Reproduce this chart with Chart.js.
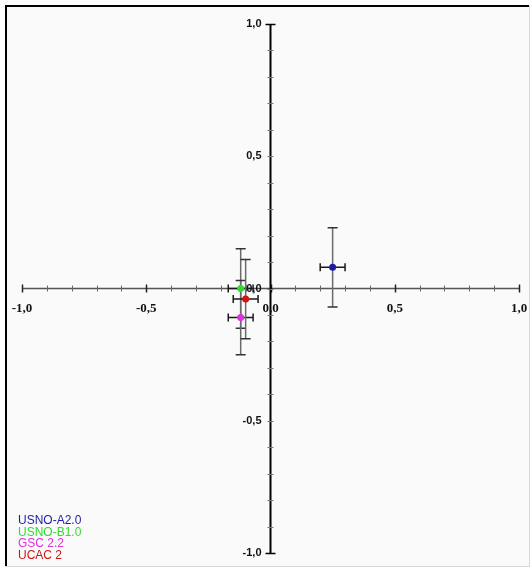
<!DOCTYPE html>
<html>
<head>
<meta charset="utf-8">
<script src="https://cdn.jsdelivr.net/npm/chart.js@4.4.1/dist/chart.umd.min.js"></script>
<style>
  html, body { margin: 0; padding: 0; background: #ffffff; }
  #wrap { width: 531px; height: 568px; }
</style>
</head>
<body>
<div id="wrap"><canvas id="chart" width="531" height="568"></canvas></div>
<script>
// Catalogue offsets (position difference) with their uncertainties
const catalogs = ['USNO-A2.0', 'USNO-B1.0', 'GSC 2.2', 'UCAC 2'];
const catalogColors = ['#1c1ca8', '#30dc30', '#e030e0', '#d01414'];
const xValues = [0.25, -0.12, -0.12, -0.10];
const yValues = [0.08, 0.00, -0.11, -0.04];
const xErrors = [0.05, 0.05, 0.05, 0.05];
const yErrors = [0.15, 0.15, 0.14, 0.15];

// Axis ticks
const majorTicks = [-1.0, -0.5, 0.0, 0.5, 1.0];
const tickLabels = ['-1,0', '-0,5', '0,0', '0,5', '1,0'];
const minorStep = 0.1;

const datasets = catalogs.map((name, i) => ({
  label: name,
  data: [{ x: xValues[i], y: yValues[i] }],
  backgroundColor: catalogColors[i],
  borderColor: catalogColors[i],
  borderWidth: 0,
  pointRadius: 3.5,
  pointHoverRadius: 3.5
}));

// Panel background with an inset frame
const framePlugin = {
  id: 'frame',
  beforeDraw(chart) {
    const ctx = chart.ctx;
    ctx.save();
    ctx.fillStyle = '#ffffff';
    ctx.fillRect(0, 0, chart.width, chart.height);
    ctx.fillStyle = '#fafafa';
    ctx.fillRect(6, 6, 523, 560);
    ctx.fillStyle = '#000000';
    ctx.fillRect(5, 5, 525, 2);
    ctx.fillRect(5, 5, 2, 562);
    ctx.fillStyle = '#d8d8d8';
    ctx.fillRect(529, 5, 1, 562);
    ctx.fillRect(5, 566, 525, 1);
    ctx.restore();
  }
};

// Cross-shaped axes through the origin
const crossAxesPlugin = {
  id: 'crossAxes',
  beforeDatasetsDraw(chart) {
    const ctx = chart.ctx;
    const xs = chart.scales.x, ys = chart.scales.y;
    const x0 = xs.getPixelForValue(0), y0 = ys.getPixelForValue(0);
    const xl = xs.getPixelForValue(xs.min), xr = xs.getPixelForValue(xs.max);
    const yt = ys.getPixelForValue(ys.max), yb = ys.getPixelForValue(ys.min);
    ctx.save();

    // horizontal axis
    ctx.strokeStyle = '#555555';
    ctx.lineWidth = 1.5;
    ctx.beginPath();
    ctx.moveTo(xl, y0); ctx.lineTo(xr, y0);
    ctx.stroke();
    const n = Math.round((xs.max - xs.min) / minorStep);
    for (let k = 0; k <= n; k++) {
      const v = xs.min + k * minorStep;
      const px = Math.round(xs.getPixelForValue(v)) + 0.5;
      const major = majorTicks.some(m => Math.abs(m - v) < 1e-6);
      const h = major ? 4 : 3;
      ctx.strokeStyle = major ? '#222222' : '#666666';
      ctx.lineWidth = major ? 1.5 : 1;
      ctx.beginPath();
      ctx.moveTo(px, y0 - h); ctx.lineTo(px, y0 + h);
      ctx.stroke();
    }

    // vertical axis
    ctx.strokeStyle = '#000000';
    ctx.lineWidth = 2;
    ctx.beginPath();
    ctx.moveTo(x0, yt); ctx.lineTo(x0, yb);
    ctx.stroke();
    const m = Math.round((ys.max - ys.min) / minorStep);
    for (let k = 0; k <= m; k++) {
      const v = ys.min + k * minorStep;
      const py = Math.round(ys.getPixelForValue(v)) + 0.5;
      const end = Math.abs(Math.abs(v) - 1) < 1e-6;
      const h = end ? 5 : 3;
      ctx.strokeStyle = end ? '#000000' : '#777777';
      ctx.lineWidth = end ? 1.5 : 1;
      ctx.beginPath();
      ctx.moveTo(x0 - h, py); ctx.lineTo(x0 + h, py);
      ctx.stroke();
    }

    // tick labels
    ctx.fillStyle = '#111111';
    ctx.font = 'bold 13px "Liberation Serif", serif';
    ctx.textAlign = 'center';
    ctx.textBaseline = 'middle';
    majorTicks.forEach((v, i) => {
      ctx.fillText(tickLabels[i], xs.getPixelForValue(v), y0 + 20);
    });
    ctx.font = 'bold 11px "Liberation Sans", sans-serif';
    ctx.textAlign = 'right';
    majorTicks.forEach((v, i) => {
      ctx.fillText(tickLabels[i], x0 - 9, ys.getPixelForValue(v));
    });
    ctx.restore();
  }
};

// Error bars for each catalogue point
const errorBarsPlugin = {
  id: 'errorBars',
  beforeDatasetsDraw(chart) {
    const ctx = chart.ctx;
    const xs = chart.scales.x, ys = chart.scales.y;
    ctx.save();
    catalogs.forEach((_, i) => {
      const px = xs.getPixelForValue(xValues[i]);
      const py = ys.getPixelForValue(yValues[i]);
      const top = ys.getPixelForValue(yValues[i] + yErrors[i]);
      const bot = ys.getPixelForValue(yValues[i] - yErrors[i]);
      const left = xs.getPixelForValue(xValues[i] - xErrors[i]);
      const right = xs.getPixelForValue(xValues[i] + xErrors[i]);
      // vertical bar
      ctx.strokeStyle = '#6a6a6a';
      ctx.lineWidth = 1.5;
      ctx.beginPath();
      ctx.moveTo(px, top); ctx.lineTo(px, bot);
      ctx.stroke();
      ctx.strokeStyle = '#333333';
      ctx.beginPath();
      ctx.moveTo(px - 5, top); ctx.lineTo(px + 5, top);
      ctx.moveTo(px - 5, bot); ctx.lineTo(px + 5, bot);
      ctx.stroke();
      // horizontal bar
      ctx.strokeStyle = '#1a1a1a';
      ctx.lineWidth = 1.5;
      ctx.beginPath();
      ctx.moveTo(left, py); ctx.lineTo(right, py);
      ctx.moveTo(left, py - 4); ctx.lineTo(left, py + 4);
      ctx.moveTo(right, py - 4); ctx.lineTo(right, py + 4);
      ctx.stroke();
    });
    ctx.restore();
  }
};

// Catalogue names in their colours, lower left
const legendTextPlugin = {
  id: 'legendText',
  afterDraw(chart) {
    const ctx = chart.ctx;
    ctx.save();
    ctx.font = '12px "Liberation Sans", Arial, sans-serif';
    ctx.textAlign = 'left';
    ctx.textBaseline = 'middle';
    catalogs.forEach((name, i) => {
      ctx.fillStyle = catalogColors[i];
      ctx.fillText(name, 18, 521 + i * 11.5);
    });
    ctx.restore();
  }
};

new Chart(document.getElementById('chart'), {
  type: 'scatter',
  data: { datasets },
  options: {
    responsive: false,
    animation: false,
    layout: { padding: { left: 22, right: 12, top: 24, bottom: 15 } },
    scales: {
      x: { type: 'linear', min: -1, max: 1, display: false },
      y: { type: 'linear', min: -1, max: 1, display: false }
    },
    plugins: {
      legend: { display: false },
      tooltip: { enabled: false }
    }
  },
  plugins: [framePlugin, crossAxesPlugin, errorBarsPlugin, legendTextPlugin]
});
</script>
</body>
</html>
